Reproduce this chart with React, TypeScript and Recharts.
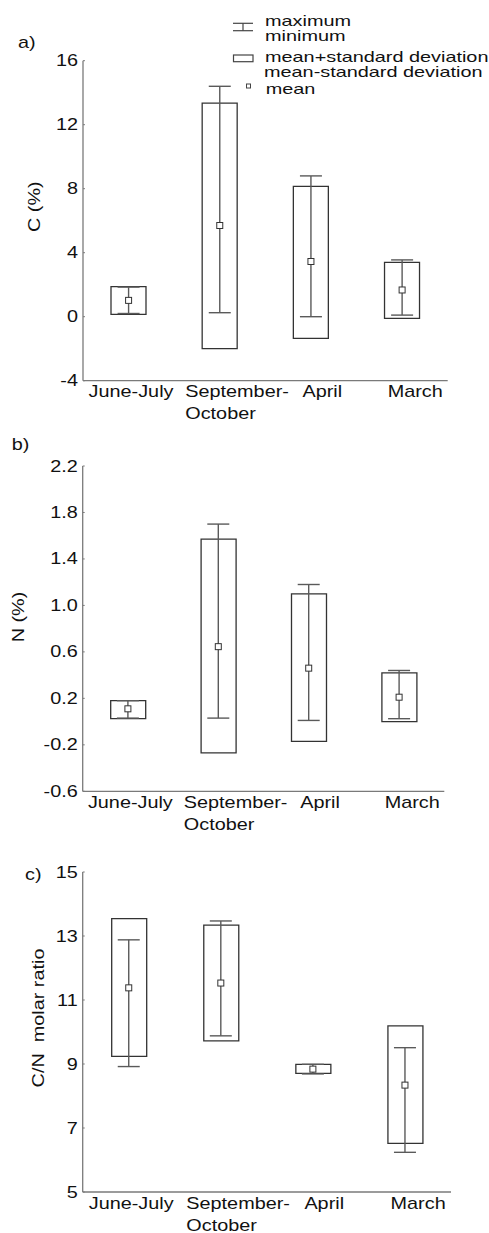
import React from 'react';
import { ComposedChart, Bar, Line, ErrorBar, XAxis, YAxis } from 'recharts';

// ---------- data ----------
const categories = ['June-July', 'September-October', 'April', 'March'];
const categoryLines = [['June-July'], ['September-', 'October'], ['April'], ['March']];

// a) C (%)
const cMax = [1.85, 14.4, 8.8, 3.55];
const cMin = [0.2, 0.25, 0.0, 0.1];
const cSdHigh = [1.88, 13.35, 8.15, 3.4];
const cSdLow = [0.15, -2.0, -1.35, -0.1];
const cMean = [1.02, 5.7, 3.45, 1.67];
const cTicks = [-4, 0, 4, 8, 12, 16];

// b) N (%)
const nMax = [0.18, 1.7, 1.18, 0.44];
const nMin = [0.03, 0.03, 0.01, 0.025];
const nSdHigh = [0.18, 1.57, 1.1, 0.42];
const nSdLow = [0.025, -0.27, -0.17, 0.0];
const nMean = [0.11, 0.645, 0.46, 0.21];
const nTicks = [-0.6, -0.2, 0.2, 0.6, 1.0, 1.4, 1.8, 2.2];

// c) C/N molar ratio
const cnMax = [12.88, 13.47, 8.99, 9.51];
const cnMin = [8.92, 9.88, 8.69, 6.24];
const cnSdHigh = [13.54, 13.34, 8.99, 10.19];
const cnSdLow = [9.24, 9.72, 8.71, 6.52];
const cnMean = [11.38, 11.53, 8.84, 8.34];
const cnTicks = [5, 7, 9, 11, 13, 15];

const legendLabels = ['maximum', 'minimum', 'mean+standard deviation', 'mean-standard deviation', 'mean'];

// ---------- style ----------
const FONT = '"Liberation Sans", Arial, Helvetica, sans-serif';
const SX = 1.24;
const FS = 16;
const TEXT = '#111';
const AXIS = '#7a7a7a';
const BOX = '#333';
const WHISK = '#5a5a5a';
const TICK_DX = [-40, -34.5, -8.5, -14.4];

function buildRows(max: number[], min: number[], hi: number[], lo: number[], mean: number[]) {
  return categories.map((name, i) => ({
    name,
    box: [lo[i], hi[i]],
    mean: mean[i],
    range: [mean[i] - min[i], max[i] - mean[i]],
  }));
}

const XTick = (props: any) => {
  const { x, y, payload } = props;
  const idx = categories.indexOf(payload.value);
  const lines = categoryLines[idx] || [String(payload.value)];
  return (
    <g>
      {lines.map((ln, k) => (
        <text
          key={k}
          transform={`translate(${x + TICK_DX[idx]},${y + 16.5 + k * 22}) scale(${SX},1)`}
          fontFamily={FONT}
          fontSize={FS}
          fill={TEXT}
          textAnchor="start"
        >
          {ln}
        </text>
      ))}
    </g>
  );
};

const makeYTick = (fmt: (v: number) => string) => (props: any) => {
  const { x, y, payload } = props;
  return (
    <g>
      <line x1={x} y1={y} x2={x + 2} y2={y} stroke={AXIS} strokeWidth={1} />
      <text
        transform={`translate(${x - 5},${y + 5.5}) scale(${SX},1)`}
        fontFamily={FONT}
        fontSize={FS}
        fill={TEXT}
        textAnchor="end"
      >
        {fmt(payload.value)}
      </text>
    </g>
  );
};

const MeanDot = (p: any) => (
  <rect
    key={`m-${p.index}`}
    x={p.cx - 3}
    y={p.cy - 3}
    width={6}
    height={6}
    fill="#fff"
    stroke={BOX}
    strokeWidth={1}
  />
);

type PanelProps = {
  top: number;
  height: number;
  margin: { top: number; right: number; left: number; bottom: number };
  rows: any[];
  domain: [number, number];
  ticks: number[];
  fmt: (v: number) => string;
  yLabel: string;
  yLabelX: number;
  yLabelY: number;
};

const Panel = ({ top, height, margin, rows, domain, ticks, fmt, yLabel, yLabelX, yLabelY }: PanelProps) => {
  const YT = makeYTick(fmt);
  return (
    <div style={{ position: 'absolute', left: 0, top, width: 489, height }}>
      <ComposedChart width={489} height={height} data={rows} margin={margin}>
        <XAxis
          dataKey="name"
          interval={0}
          height={40}
          tickSize={0}
          tickMargin={0}
          tickLine={false}
          tick={<XTick />}
          axisLine={{ stroke: AXIS, strokeWidth: 1.3 }}
        />
        <YAxis
          type="number"
          domain={domain}
          ticks={ticks}
          allowDataOverflow
          width={60}
          tickSize={0}
          tickMargin={0}
          tickLine={false}
          tick={<YT />}
          axisLine={{ stroke: AXIS, strokeWidth: 1.3 }}
          label={{
            content: () => (
              <text
                transform={`translate(${yLabelX},${yLabelY}) rotate(-90) scale(${SX},1)`}
                fontFamily={FONT}
                fontSize={FS}
                fill={TEXT}
                textAnchor="middle"
                style={{ whiteSpace: 'pre' }}
              >
                {yLabel}
              </text>
            ),
          }}
        />
        <Bar dataKey="box" barSize={35} fill="none" stroke={BOX} strokeWidth={1.3} isAnimationActive={false} />
        <Line
          dataKey="mean"
          stroke="none"
          dot={MeanDot}
          activeDot={false}
          isAnimationActive={false}
        >
          <ErrorBar dataKey="range" width={11} stroke={WHISK} strokeWidth={1.4} direction="y" />
        </Line>
      </ComposedChart>
    </div>
  );
};

const PlainText = ({ x, y, children, fs = FS, sx = SX }: { x: number; y: number; children: React.ReactNode; fs?: number; sx?: number }) => (
  <text transform={`translate(${x},${y}) scale(${sx},1)`} fontFamily={FONT} fontSize={fs} fill={TEXT}>
    {children}
  </text>
);

const LEG_Y = [25.5, 40.5, 61.5, 76.5, 94];
const LEG_X = [265, 265, 265, 264, 265.7];

export default function App() {
  const rowsA = buildRows(cMax, cMin, cSdHigh, cSdLow, cMean);
  const rowsB = buildRows(nMax, nMin, nSdHigh, nSdLow, nMean);
  const rowsC = buildRows(cnMax, cnMin, cnSdHigh, cnSdLow, cnMean);
  const f0 = (v: number) => String(v);
  const f1 = (v: number) => v.toFixed(1);
  return (
    <div style={{ position: 'absolute', left: 0, top: 0, width: 489, height: 1233, background: '#fff' }}>
      <Panel
        top={0}
        height={430}
        margin={{ top: 60.7, right: 41.3, left: 23, bottom: 9.3 }}
        rows={rowsA}
        domain={[-4, 16]}
        ticks={cTicks}
        fmt={f0}
        yLabel="C (%)"
        yLabelX={40}
        yLabelY={206.7}
      />
      <Panel
        top={430}
        height={410}
        margin={{ top: 36, right: 44.7, left: 22.7, bottom: 8.7 }}
        rows={rowsB}
        domain={[-0.6, 2.2]}
        ticks={nTicks}
        fmt={f1}
        yLabel="N (%)"
        yLabelX={23.5}
        yLabelY={187}
      />
      <Panel
        top={840}
        height={393}
        margin={{ top: 32, right: 38, left: 22.7, bottom: 1 }}
        rows={rowsC}
        domain={[5, 15]}
        ticks={cnTicks}
        fmt={f0}
        yLabel={'C/N\u00a0 molar ratio'}
        yLabelX={43.5}
        yLabelY={178}
      />
      <svg
        width={489}
        height={1233}
        style={{ position: 'absolute', left: 0, top: 0, pointerEvents: 'none' }}
      >
        {/* legend */}
        <g stroke="#444" strokeWidth={1.2} fill="none">
          <line x1={233} y1={23.3} x2={253} y2={23.3} />
          <line x1={243} y1={23.3} x2={243} y2={30.7} />
          <line x1={233} y1={30.7} x2={253} y2={30.7} />
          <rect x={233.5} y={55} width={19.5} height={6.7} />
          <rect x={246.5} y={84} width={4} height={4} strokeWidth={1} />
        </g>
        {legendLabels.map((t, i) => (
          <PlainText key={t} x={LEG_X[i]} y={LEG_Y[i]} fs={14.5} sx={1.37}>
            {t}
          </PlainText>
        ))}
        {/* panel labels */}
        <PlainText x={18} y={48}>a)</PlainText>
        <PlainText x={11.7} y={450}>b)</PlainText>
        <PlainText x={25} y={879.5}>c)</PlainText>
      </svg>
    </div>
  );
}
